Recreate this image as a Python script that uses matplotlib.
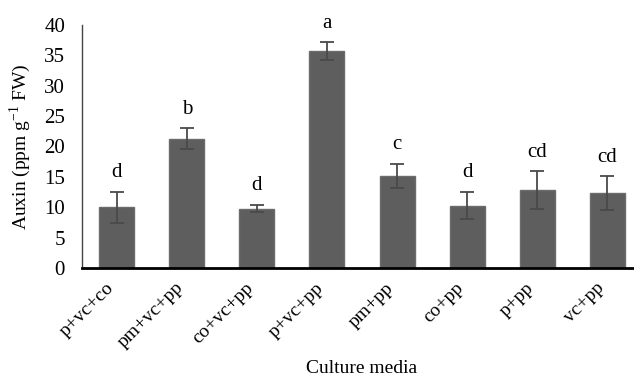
import numpy as np
from matplotlib import pyplot as plt
from matplotlib.transforms import ScaledTranslation

plt.rcParams['font.family'] = ['Liberation Serif']
plt.rcParams['mathtext.fontset'] = 'custom'
plt.rcParams['mathtext.rm'] = 'Liberation Serif'

# Data
media = ['p+vc+co', 'pm+vc+pp', 'co+vc+pp', 'p+vc+pp', 'pm+pp', 'co+pp', 'p+pp', 'vc+pp']
auxin = [10.0, 21.3, 9.8, 35.7, 15.1, 10.3, 12.8, 12.3]
err = [2.6, 1.7, 0.6, 1.4, 2.0, 2.3, 3.1, 2.8]
letters = ['d', 'b', 'd', 'a', 'c', 'd', 'cd', 'cd']

fig = plt.figure(figsize=(6.34, 3.82), dpi=100)
ax = fig.add_axes([0.129, 0.298, 0.884, 0.637])

x = np.arange(len(media))
ax.bar(x, auxin, width=0.5, color='#5e5e5e', edgecolor='#6c6c6c', linewidth=1.0, zorder=2)
ax.errorbar(x, auxin, yerr=err, fmt='none', ecolor='#4a4a4a', elinewidth=1.3,
            capsize=5, capthick=1.3, zorder=3)

for xi, v, e, lab in zip(x, auxin, err, letters):
    ax.text(xi, v + e + 1.6, lab, ha='center', va='bottom', fontsize=15)

ax.set_ylim(0, 40)
ax.set_xlim(-0.5, 7.5)
ax.set_yticks(range(0, 41, 5))
ax.set_xticks(x)
ax.set_xticklabels(media, rotation=45, ha='right', rotation_mode='anchor')
ax.tick_params(axis='y', length=0, labelsize=15, pad=12)
ax.tick_params(axis='x', length=0, labelsize=14, pad=8)

# nudge the rotated labels left like the original
shift = ScaledTranslation(-12 / 100, 0, fig.dpi_scale_trans)
for lbl in ax.get_xticklabels():
    lbl.set_transform(lbl.get_transform() + shift)

for s in ['top', 'right']:
    ax.spines[s].set_visible(False)
ax.spines['left'].set_color('#444444')
ax.spines['left'].set_linewidth(1.0)
ax.spines['bottom'].set_color('black')
ax.spines['bottom'].set_linewidth(2.0)

ax.set_ylabel('Auxin (ppm g$^{\\mathregular{-1}}$ FW)', fontsize=14, labelpad=8)
ax.set_xlabel('Culture media', fontsize=14, labelpad=6)

fig.savefig('out.png', dpi=100)
